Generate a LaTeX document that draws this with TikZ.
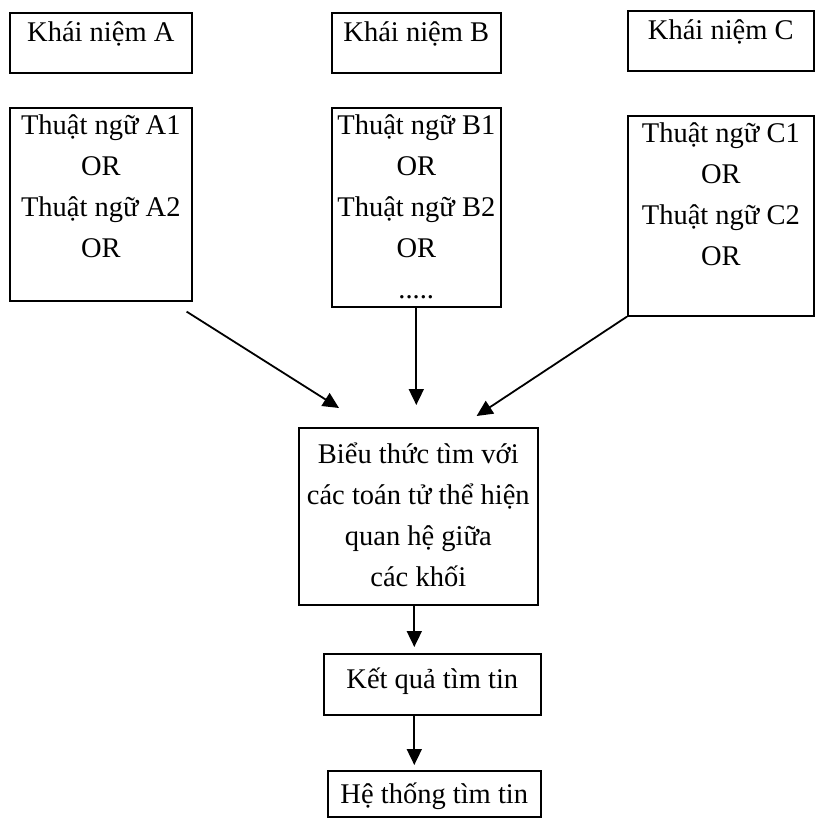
\documentclass[tikz,border=0pt]{standalone}
\usepackage{fontspec}
\setmainfont{Liberation Serif}
\usetikzlibrary{arrows.meta}

\begin{document}
\begin{tikzpicture}[x=1pt,y=-1pt,
  box/.style={draw,line width=1.6pt,anchor=north west,inner sep=0pt,align=center,
    font=\fontsize{28.5}{41}\selectfont},
  arrow/.style={-{Triangle[length=16pt,width=15pt]},line width=1.8pt}]
\useasboundingbox (0,0) rectangle (816,818);
% khai niem
\node[box,minimum width=182pt,text height=29pt,text depth=31pt] (conA) at (9,12) {Khái niệm A};
\node[box,minimum width=169pt,text height=29pt,text depth=31pt] (conB) at (331,12) {Khái niệm B};
\node[box,minimum width=186pt,text height=29pt,text depth=31pt] (conC) at (627,10) {Khái niệm C};
% thuat ngu
\node[box,minimum width=182pt,text height=150pt,text depth=43pt] (termA) at (9,107)
  {Thuật ngữ A1\\OR\\Thuật ngữ A2\\OR};
\node[box,minimum width=169pt,text height=191pt,text depth=8pt] (termB) at (331,107)
  {Thuật ngữ B1\\OR\\Thuật ngữ B2\\OR\\.....};
\node[box,minimum width=186pt,text height=150pt,text depth=50pt] (termC) at (627,115)
  {Thuật ngữ C1\\OR\\Thuật ngữ C2\\OR};
% bieu thuc, ket qua
\node[box,minimum width=239pt,text height=159pt,text depth=18pt] (expr) at (298,427)
  {Biểu thức tìm với\\các toán tử thể hiện\\quan hệ giữa\\các khối};
\node[box,minimum width=217pt,text height=35pt,text depth=26pt] (result) at (323,653) {Kết quả tìm tin};
\node[box,minimum width=213pt,text height=33pt,text depth=13pt] (system) at (327,770) {Hệ thống tìm tin};
% mui ten
\draw[arrow]([xshift=-6pt,yshift=-10pt]termA.south east)--([xshift=41pt,yshift=19pt]expr.north west);
\draw[arrow,shorten >=22pt](termB.south)--(termB.south |- expr.north);
\draw[arrow](termC.south west)--([xshift=-62pt,yshift=11pt]expr.north east);
\draw[arrow,shorten >=6pt]([xshift=-4pt]expr.south)--([xshift=-4pt]expr.south |- result.north);
\draw[arrow,shorten >=5pt]([xshift=-4pt]expr.south |- result.south)--([xshift=-4pt]expr.south |- system.north);
\end{tikzpicture}
\end{document}
